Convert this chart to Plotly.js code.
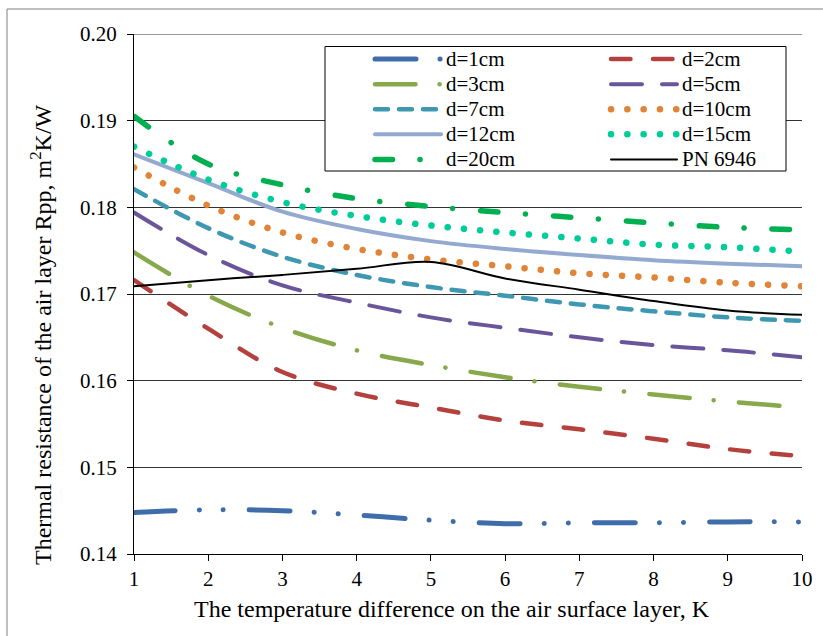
<!DOCTYPE html>
<html>
<head>
<meta charset="utf-8">
<script src="https://cdn.plot.ly/plotly-3.0.1.min.js"></script>
<style>
html,body{margin:0;padding:0;background:#fff;}
#chart{width:823px;height:636px;}
path.js-line{stroke-linecap:round !important;}
</style>
</head>
<body>
<div id="chart"></div>
<script>
// Temperature difference, K
const xValues = [1, 2, 3, 4, 5, 6, 7, 8, 9, 10];
// Thermal resistance, m2K/W
const d1cm  = [0.1448, 0.1451, 0.1450, 0.1445, 0.1439, 0.1435, 0.1436, 0.1436, 0.1437, 0.1437];
const d2cm  = [0.1716, 0.1660, 0.1610, 0.1585, 0.1569, 0.1554, 0.1544, 0.1533, 0.1521, 0.1513];
const d3cm  = [0.1748, 0.1698, 0.1661, 0.1635, 0.1618, 0.1604, 0.1593, 0.1584, 0.1576, 0.1569];
const d5cm  = [0.1794, 0.1745, 0.1710, 0.1690, 0.1673, 0.1661, 0.1650, 0.1641, 0.1635, 0.1627];
const d7cm  = [0.1821, 0.1776, 0.1743, 0.1722, 0.1708, 0.1698, 0.1688, 0.1680, 0.1673, 0.1669];
const d10cm = [0.1846, 0.1802, 0.1771, 0.1752, 0.1740, 0.1732, 0.1724, 0.1719, 0.1713, 0.1709];
const d12cm = [0.1861, 0.1828, 0.1795, 0.1775, 0.1761, 0.1752, 0.1745, 0.1739, 0.1735, 0.1732];
const d15cm = [0.1870, 0.1832, 0.1806, 0.1790, 0.1779, 0.1771, 0.1764, 0.1757, 0.1754, 0.1749];
const d20cm = [0.1905, 0.1850, 0.1826, 0.1810, 0.1801, 0.1794, 0.1788, 0.1782, 0.1777, 0.1774];
const pn6946 = [0.1709, 0.1716, 0.1722, 0.1729, 0.1737, 0.1718, 0.1705, 0.1692, 0.1681, 0.1676];

const seriesNames = ["d=1cm", "d=2cm", "d=3cm", "d=5cm", "d=7cm", "d=10cm", "d=12cm", "d=15cm", "d=20cm", "PN 6946"];
const seriesData = [d1cm, d2cm, d3cm, d5cm, d7cm, d10cm, d12cm, d15cm, d20cm, pn6946];

const styles = [
  {color: "#3E6DAA", width: 5,   dash: "41px,24px,0.1px,24px,0.1px,26px"},
  {color: "#B5413E", width: 4.5, dash: "19.5px,22.5px"},
  {color: "#87A84B", width: 4.5, dash: "40.5px,24px,0.1px,25.5px"},
  {color: "#6A559A", width: 4,   dash: "31px,20px"},
  {color: "#3F98B2", width: 4.5, dash: "13px,11px"},
  {color: "#E08538", width: 6.5, dash: "0.1px,16.2px"},
  {color: "#93A9CF", width: 4,   dash: "solid"},
  {color: "#00CC99", width: 6.5, dash: "0.1px,16.2px"},
  {color: "#00B050", width: 5.5, dash: "17.5px,27.5px,0.1px,28px"},
  {color: "#000000", width: 2,   dash: "solid"}
];

const traces = seriesNames.map((name, i) => ({
  type: "scatter",
  mode: "lines",
  name: '<span style="font-size:21px">' + name + '</span>',
  x: xValues,
  y: seriesData[i],
  line: {color: styles[i].color, width: styles[i].width, dash: styles[i].dash, shape: "spline", smoothing: 1},
  hoverinfo: "x+y"
}));

const FONT = "Liberation Serif, Times New Roman, serif";
const L = 134, R = 21, T = 34, B = 82, W = 823, H = 636;
const pw = W - L - R, ph = H - T - B;
const px = v => (v - L) / pw;
const py = v => 1 - (v - T) / ph;

const layout = {
  width: W, height: H, autosize: false,
  margin: {l: L, r: R, t: T, b: B, pad: 0, autoexpand: false},
  paper_bgcolor: "#ffffff",
  plot_bgcolor: "#ffffff",
  font: {family: FONT, size: 20, color: "#000"},
  showlegend: true,
  xaxis: {
    range: [1, 10], dtick: 1, tick0: 1,
    ticks: "outside", ticklen: 6, tickcolor: "#000", tickwidth: 1,
    showline: true, linecolor: "#000", linewidth: 1,
    showgrid: false, zeroline: false,
    tickfont: {family: FONT, size: 21, color: "#000"}
  },
  yaxis: {
    range: [0.14, 0.20], dtick: 0.01, tick0: 0.14, tickformat: ".2f",
    ticks: "outside", ticklen: 6, tickcolor: "#000", tickwidth: 1,
    showline: true, linecolor: "#000", linewidth: 1,
    showgrid: true, gridcolor: "#333", gridwidth: 1,
    zeroline: false,
    tickfont: {family: FONT, size: 21, color: "#000"},
    ticklabelstandoff: 6
  },
  legend: {
    orientation: "h",
    x: px(370), y: py(41.5), xanchor: "left", yanchor: "top",
    bgcolor: "rgba(0,0,0,0)", borderwidth: 0,
    itemwidth: 66, entrywidth: 155,
    font: {family: FONT, size: 17, color: "#000"},
    traceorder: "normal"
  },
  shapes: [
    {type: "line", xref: "x", yref: "y", x0: 1, x1: 10, y0: 0.20, y1: 0.20,
     line: {color: "#333", width: 1}, layer: "below"},
    {type: "rect", xref: "paper", yref: "paper", x0: px(325), x1: px(786), y0: py(171), y1: py(46.5),
     line: {color: "#000", width: 1}, fillcolor: "#fff", layer: "above"},
    {type: "rect", xref: "paper", yref: "paper", x0: px(7), x1: px(830), y0: py(645), y1: py(9),
     line: {color: "#808080", width: 1}, fillcolor: "rgba(0,0,0,0)", layer: "below"}
  ],
  annotations: [
    {text: "Thermal resistance of the air layer Rpp, m<sup>2</sup>K/W", xref: "paper", yref: "paper",
     x: px(41), y: py(335), xanchor: "center", yanchor: "middle", textangle: -90, showarrow: false,
     font: {family: FONT, size: 24, color: "#000"}},
    {text: "The temperature difference on the air surface layer, K", xref: "paper", yref: "paper",
     x: px(451.5), y: py(609), xanchor: "center", yanchor: "middle", showarrow: false,
     font: {family: FONT, size: 24, color: "#000"}}
  ]
};

Plotly.newPlot("chart", traces, layout, {displayModeBar: false, staticPlot: true});
</script>
</body>
</html>
